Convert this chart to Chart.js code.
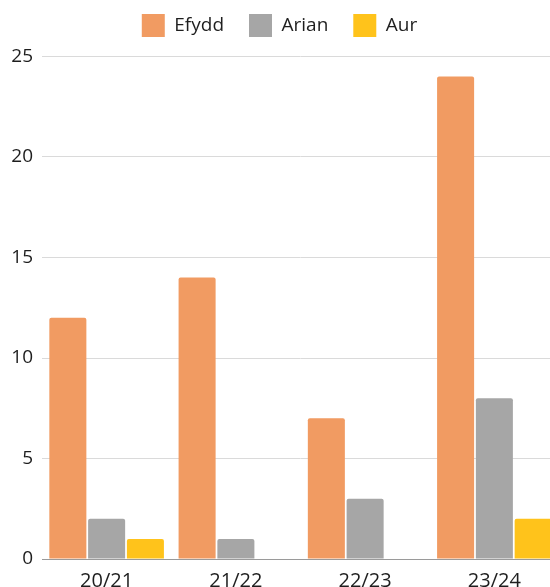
<!DOCTYPE html>
<html>
<head>
<meta charset="utf-8">
<script src="https://cdn.jsdelivr.net/npm/chart.js@4"></script>
<style>
html,body{margin:0;padding:0;overflow:hidden;background:#fff;width:550px;height:587px;}
#wrap{position:absolute;left:0;top:0;width:559px;height:600px;}
</style>
</head>
<body>
<div id="wrap"><canvas id="c" width="559" height="600"></canvas></div>
<script>
const categories = ["20/21", "21/22", "22/23", "23/24"];
const efydd = [12, 14, 7, 24];
const arian = [2, 1, 3, 8];
const aur = [1, 0, 0, 2];
const seriesNames = ["Efydd", "Arian", "Aur"];
const seriesColors = ["#F19B62", "#A6A6A6", "#FFC31B"];
const yTicks = [0, 5, 10, 15, 20, 25];

const FONT = "'Open Sans', 'Noto Sans', sans-serif";
const TXT = "#1e1e1e";

new Chart(document.getElementById('c'), {
  type: 'bar',
  data: {
    labels: categories,
    datasets: [efydd, arian, aur].map((d, i) => ({
      label: seriesNames[i],
      data: d,
      backgroundColor: seriesColors[i],
      borderWidth: 0,
      borderRadius: 2,
      borderSkipped: 'bottom',
      categoryPercentage: 0.9,
      barPercentage: 0.955
    }))
  },
  options: {
    responsive: false,
    animation: false,
    layout: { padding: { top: -11, left: 0, right: 0, bottom: 0 } },
    plugins: {
      legend: {
        position: 'top',
        align: 'center',
        labels: {
          boxWidth: 23,
          boxHeight: 23,
          padding: 25,
          color: TXT,
          font: { family: FONT, size: 19 }
        }
      },
      title: {
        display: true,
        text: '',
        weight: 500,
        font: { size: 5, lineHeight: 1.2 },
        padding: { top: 3.5, bottom: 0 }
      },
      tooltip: { enabled: false }
    },
    scales: {
      x: {
        afterFit(s) { s.height = 41; },
        grid: { display: false, drawTicks: false },
        border: { display: true, color: '#9a9a9a', width: 1 },
        ticks: { color: TXT, padding: 10, font: { family: FONT, size: 20 } }
      },
      y: {
        min: 0,
        max: 25,
        afterFit(s) { s.width = 42; },
        afterBuildTicks(s) { s.ticks = yTicks.map(v => ({ value: v })); },
        grid: { color: '#dadada', lineWidth: 1, drawTicks: false },
        border: { display: false },
        ticks: { color: TXT, padding: 9, font: { family: FONT, size: 19 } }
      }
    }
  }
});
</script>
</body>
</html>
